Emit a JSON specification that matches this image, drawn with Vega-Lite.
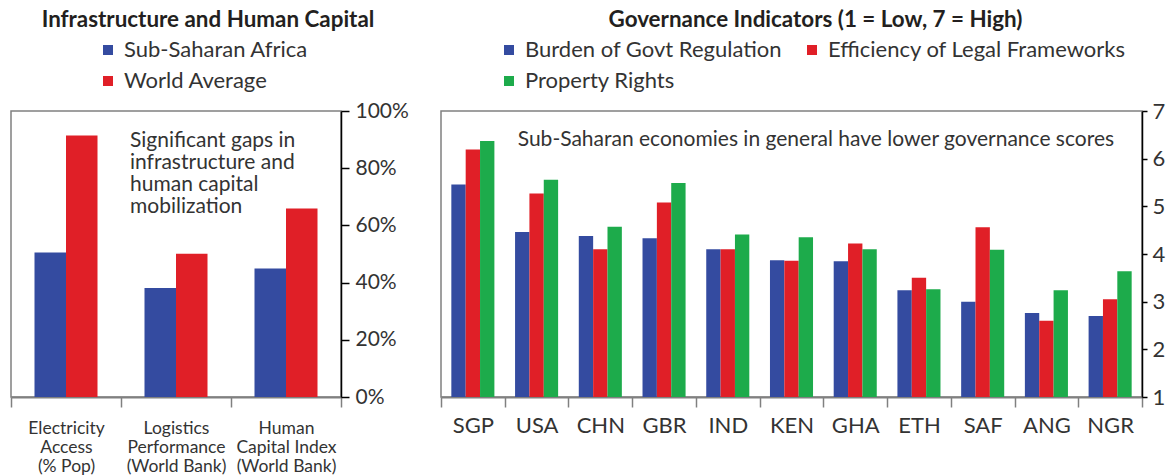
{
  "$schema": "https://vega.github.io/schema/vega-lite/v6.json",
  "background": "white",
  "padding": {"left": 9, "top": 7, "right": 0, "bottom": 0},
  "spacing": 100,
  "bounds": "flush",
  "resolve": {
    "scale": {"x": "independent", "y": "independent", "xOffset": "independent", "color": "independent"},
    "legend": {"color": "independent"},
    "axis": {"x": "independent", "y": "independent"}
  },
  "config": {
    "font": "Lato",
    "view": {"stroke": "#808080", "strokeWidth": 1.5},
    "axis": {"grid": false, "labelFont": "Lato", "labelColor": "#333333", "title": null, "labelAngle": 0},
    "legend": {
      "orient": "none",
      "title": null,
      "symbolType": "square",
      "symbolSize": 100,
      "symbolStrokeWidth": 0,
      "labelFont": "Lato",
      "labelFontSize": 22,
      "labelColor": "#333333",
      "labelOffset": 5,
      "labelLimit": 0,
      "rowPadding": 9,
      "padding": 0
    },
    "title": {"font": "Lato", "fontSize": 22.4, "fontWeight": "bold", "color": "#231f20", "anchor": "middle"}
  },
  "hconcat": [
    {
      "width": 330,
      "height": 286,
      "title": {"text": "Infrastructure and Human Capital", "dx": 32, "offset": 8},
      "layer": [
        {
          "data": {"values": [
            {"indicator": "Electricity Access (% Pop)", "group": "Sub-Saharan Africa", "share": 0.505},
            {"indicator": "Electricity Access (% Pop)", "group": "World Average", "share": 0.914},
            {"indicator": "Logistics Performance (World Bank)", "group": "Sub-Saharan Africa", "share": 0.381},
            {"indicator": "Logistics Performance (World Bank)", "group": "World Average", "share": 0.501},
            {"indicator": "Human Capital Index (World Bank)", "group": "Sub-Saharan Africa", "share": 0.449},
            {"indicator": "Human Capital Index (World Bank)", "group": "World Average", "share": 0.659}
          ]},
          "mark": {"type": "bar"},
          "encoding": {
            "x": {
              "field": "indicator", "type": "nominal", "sort": null,
              "scale": {"domain": ["Electricity Access (% Pop)", "Logistics Performance (World Bank)", "Human Capital Index (World Bank)"], "paddingInner": 0, "paddingOuter": 0},
              "axis": {
                "tickBand": "extent", "tickSize": 10, "tickColor": "#808080", "tickWidth": 1.5,
                "domainColor": "#808080", "domainWidth": 2,
                "labelFontSize": 17.5, "labelLineHeight": 19, "labelPadding": 12, "labelOverlap": false, "labelBound": false,
                "labelExpr": "datum.value == 'Electricity Access (% Pop)' ? ['Electricity', 'Access', '(% Pop)'] : datum.value == 'Logistics Performance (World Bank)' ? ['Logistics', 'Performance', '(World Bank)'] : datum.value == 'Human Capital Index (World Bank)' ? ['Human', 'Capital Index', '(World Bank)'] : ''"
              }
            },
            "xOffset": {"field": "group", "type": "nominal", "sort": null, "scale": {"paddingInner": 0, "paddingOuter": 0.746}},
            "y": {
              "field": "share", "type": "quantitative",
              "scale": {"domain": [0, 1]},
              "axis": {"orient": "right", "values": [0, 0.2, 0.4, 0.6, 0.8, 1], "format": ".0%", "domainColor": "#000000", "domainWidth": 1.5, "tickColor": "#000000", "tickWidth": 1.5, "tickSize": 8, "labelFontSize": 21, "labelPadding": 6}
            },
            "color": {
              "field": "group", "type": "nominal", "sort": null,
              "scale": {"domain": ["Sub-Saharan Africa", "World Average"], "range": ["#344ba0", "#e01f27"]},
              "legend": {"legendX": 86, "legendY": -72, "direction": "vertical"}
            }
          }
        },
        {
          "data": {"values": [
            {"note": ["Significant gaps in", "infrastructure and", "human capital", "mobilization"], "indicator": "Logistics Performance (World Bank)", "share": 0.873}
          ]},
          "mark": {"type": "text", "align": "left", "baseline": "alphabetic", "fontSize": 21, "lineHeight": 22, "dx": 9, "color": "#333333", "font": "Lato"},
          "encoding": {
            "x": {"field": "indicator", "type": "nominal", "bandPosition": 0},
            "y": {"field": "share", "type": "quantitative"},
            "text": {"field": "note"}
          }
        }
      ]
    },
    {
      "width": 701,
      "height": 286,
      "title": {"text": "Governance Indicators (1 = Low, 7 = High)", "dx": 24, "offset": 8},
      "layer": [
        {
          "data": {"values": [
            {"country": "SGP", "indicator": "Burden of Govt Regulation", "score": 5.46},
            {"country": "SGP", "indicator": "Efficiency of Legal Frameworks", "score": 6.19},
            {"country": "SGP", "indicator": "Property Rights", "score": 6.37},
            {"country": "USA", "indicator": "Burden of Govt Regulation", "score": 4.46},
            {"country": "USA", "indicator": "Efficiency of Legal Frameworks", "score": 5.27},
            {"country": "USA", "indicator": "Property Rights", "score": 5.56},
            {"country": "CHN", "indicator": "Burden of Govt Regulation", "score": 4.38},
            {"country": "CHN", "indicator": "Efficiency of Legal Frameworks", "score": 4.1},
            {"country": "CHN", "indicator": "Property Rights", "score": 4.57},
            {"country": "GBR", "indicator": "Burden of Govt Regulation", "score": 4.33},
            {"country": "GBR", "indicator": "Efficiency of Legal Frameworks", "score": 5.08},
            {"country": "GBR", "indicator": "Property Rights", "score": 5.49},
            {"country": "IND", "indicator": "Burden of Govt Regulation", "score": 4.1},
            {"country": "IND", "indicator": "Efficiency of Legal Frameworks", "score": 4.1},
            {"country": "IND", "indicator": "Property Rights", "score": 4.41},
            {"country": "KEN", "indicator": "Burden of Govt Regulation", "score": 3.87},
            {"country": "KEN", "indicator": "Efficiency of Legal Frameworks", "score": 3.86},
            {"country": "KEN", "indicator": "Property Rights", "score": 4.35},
            {"country": "GHA", "indicator": "Burden of Govt Regulation", "score": 3.85},
            {"country": "GHA", "indicator": "Efficiency of Legal Frameworks", "score": 4.22},
            {"country": "GHA", "indicator": "Property Rights", "score": 4.1},
            {"country": "ETH", "indicator": "Burden of Govt Regulation", "score": 3.24},
            {"country": "ETH", "indicator": "Efficiency of Legal Frameworks", "score": 3.5},
            {"country": "ETH", "indicator": "Property Rights", "score": 3.26},
            {"country": "SAF", "indicator": "Burden of Govt Regulation", "score": 3.0},
            {"country": "SAF", "indicator": "Efficiency of Legal Frameworks", "score": 4.56},
            {"country": "SAF", "indicator": "Property Rights", "score": 4.09},
            {"country": "ANG", "indicator": "Burden of Govt Regulation", "score": 2.76},
            {"country": "ANG", "indicator": "Efficiency of Legal Frameworks", "score": 2.6},
            {"country": "ANG", "indicator": "Property Rights", "score": 3.24},
            {"country": "NGR", "indicator": "Burden of Govt Regulation", "score": 2.7},
            {"country": "NGR", "indicator": "Efficiency of Legal Frameworks", "score": 3.05},
            {"country": "NGR", "indicator": "Property Rights", "score": 3.64}
          ]},
          "mark": {"type": "bar"},
          "encoding": {
            "x": {
              "field": "country", "type": "nominal", "sort": null,
              "scale": {"domain": ["SGP", "USA", "CHN", "GBR", "IND", "KEN", "GHA", "ETH", "SAF", "ANG", "NGR"], "paddingInner": 0, "paddingOuter": 0},
              "axis": {
                "tickBand": "extent", "tickSize": 10, "tickColor": "#808080", "tickWidth": 1.5,
                "domainColor": "#808080", "domainWidth": 2,
                "labelFontSize": 22, "labelPadding": 8, "labelOverlap": false
              }
            },
            "xOffset": {"field": "indicator", "type": "nominal", "sort": null, "scale": {"paddingInner": 0, "paddingOuter": 0.72}},
            "y": {
              "field": "score", "type": "quantitative",
              "scale": {"domain": [1, 7], "zero": false},
              "axis": {"orient": "right", "values": [1, 2, 3, 4, 5, 6, 7], "domainColor": "#000000", "domainWidth": 1.5, "tickColor": "#000000", "tickWidth": 1.5, "tickSize": 5, "labelFontSize": 22, "labelPadding": 5}
            },
            "y2": {"datum": 1},
            "color": {
              "field": "indicator", "type": "nominal", "sort": null,
              "scale": {"domain": ["Burden of Govt Regulation", "Efficiency of Legal Frameworks", "Property Rights"], "range": ["#344ba0", "#e01f27", "#1dab4b"]},
              "legend": {"legendX": 57, "legendY": -72, "direction": "horizontal", "columns": 2, "columnPadding": 19}
            }
          }
        },
        {
          "data": {"values": [
            {"note": "Sub-Saharan economies in general have lower governance scores", "country": "USA", "score": 6.265}
          ]},
          "mark": {"type": "text", "align": "left", "baseline": "alphabetic", "fontSize": 21, "dx": 13, "color": "#333333", "font": "Lato"},
          "encoding": {
            "x": {"field": "country", "type": "nominal", "bandPosition": 0},
            "y": {"field": "score", "type": "quantitative"},
            "text": {"field": "note"}
          }
        }
      ]
    }
  ]
}
